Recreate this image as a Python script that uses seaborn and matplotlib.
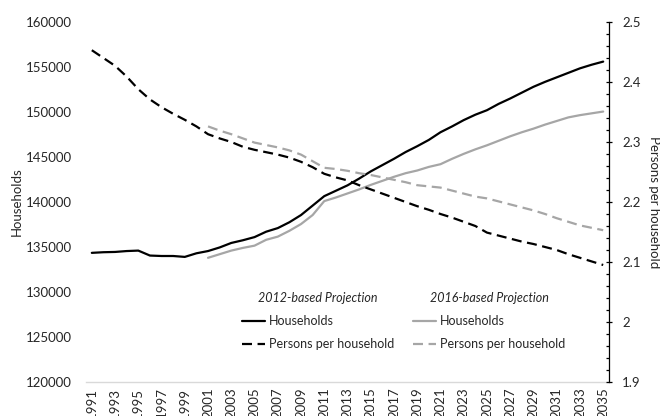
import matplotlib
matplotlib.use("Agg")
import matplotlib.pyplot as plt
import seaborn as sns
import numpy as np
from matplotlib.ticker import FuncFormatter, MultipleLocator

years_2012 = [1991, 1992, 1993, 1994, 1995, 1996, 1997, 1998, 1999, 2000,
              2001, 2002, 2003, 2004, 2005, 2006, 2007, 2008, 2009, 2010,
              2011, 2012, 2013, 2014, 2015, 2016, 2017, 2018, 2019, 2020,
              2021, 2022, 2023, 2024, 2025, 2026, 2027, 2028, 2029, 2030,
              2031, 2032, 2033, 2034, 2035]
households_2012 = [134350, 134420, 134450, 134550, 134600, 134050, 134000, 134000, 133900, 134300,
                   134550, 134950, 135450, 135750, 136100, 136700, 137100, 137750, 138550, 139600,
                   140650, 141250, 141850, 142600, 143400, 144100, 144800, 145550, 146200, 146900,
                   147750, 148400, 149100, 149700, 150200, 150900, 151500, 152150, 152800, 153350,
                   153850, 154350, 154850, 155250, 155600]
pph_2012 = [2.453, 2.440, 2.427, 2.409, 2.388, 2.371, 2.358, 2.347, 2.337, 2.326,
            2.313, 2.306, 2.300, 2.292, 2.287, 2.283, 2.279, 2.274, 2.267, 2.258,
            2.247, 2.241, 2.236, 2.228, 2.221, 2.214, 2.207, 2.200, 2.193, 2.187,
            2.180, 2.174, 2.167, 2.160, 2.149, 2.144, 2.139, 2.134, 2.130, 2.125,
            2.120, 2.113, 2.107, 2.101, 2.095]

years_2016 = [2001, 2002, 2003, 2004, 2005, 2006, 2007, 2008, 2009, 2010,
              2011, 2012, 2013, 2014, 2015, 2016, 2017, 2018, 2019, 2020,
              2021, 2022, 2023, 2024, 2025, 2026, 2027, 2028, 2029, 2030,
              2031, 2032, 2033, 2034, 2035]
households_2016 = [133800, 134200, 134600, 134900, 135150, 135800, 136150, 136800, 137550, 138550,
                   140100, 140500, 140950, 141400, 141900, 142350, 142800, 143200, 143500, 143900,
                   144200, 144800, 145350, 145850, 146300, 146800, 147300, 147750, 148150, 148600,
                   149000, 149400, 149650, 149850, 150050]
pph_2016 = [2.326, 2.319, 2.313, 2.306, 2.299, 2.295, 2.291, 2.286, 2.279, 2.268,
            2.257, 2.255, 2.252, 2.248, 2.245, 2.241, 2.237, 2.233, 2.228, 2.226,
            2.224, 2.219, 2.214, 2.209, 2.206, 2.201, 2.196, 2.191, 2.186, 2.180,
            2.173, 2.167, 2.161, 2.157, 2.153]

left_ticks = [120000, 125000, 130000, 135000, 140000, 145000, 150000, 155000, 160000]
right_ticks = [1.9, 2.0, 2.1, 2.2, 2.3, 2.4, 2.5]
x_ticks = years_2012[::2]

sns.set_style("white")
plt.rcParams['font.family'] = ['Lato', 'DejaVu Sans']

BLACK = "#000000"
GREY = "#a6a6a6"
DASH = (0, (4.5, 2.5))

fig = plt.figure(figsize=(6.6, 4.16), dpi=100)
ax = fig.add_axes([86/660, 1-382/416, (609-86)/660, (382-22)/416])
ax2 = ax.twinx()

sns.lineplot(x=years_2012, y=households_2012, ax=ax, color=BLACK, linewidth=1.6)
sns.lineplot(x=years_2016, y=households_2016, ax=ax, color=GREY, linewidth=1.6)
sns.lineplot(x=years_2012, y=pph_2012, ax=ax2, color=BLACK, linewidth=1.6, linestyle=DASH)
sns.lineplot(x=years_2016, y=pph_2016, ax=ax2, color=GREY, linewidth=1.6, linestyle=DASH)

ax.set_xlim(1990.5, 2035.5)
ax.set_ylim(120000, 160000)
ax2.set_ylim(1.9, 2.5)
ax.set_yticks(left_ticks)
ax.set_xticks(x_ticks)
ax.set_xticklabels([str(y) for y in x_ticks], rotation=90)
ax2.set_yticks(right_ticks)
ax2.yaxis.set_major_formatter(FuncFormatter(lambda v, p: f"{v:g}"))
ax2.yaxis.set_minor_locator(MultipleLocator(0.02))

for a in (ax, ax2):
    for s in ("top", "left", "right", "bottom"):
        a.spines[s].set_visible(False)
ax.spines["bottom"].set_visible(True)
ax.spines["bottom"].set_color("#d9d9d9")
ax.spines["bottom"].set_linewidth(1.0)
ax2.spines["right"].set_visible(True)
ax2.spines["right"].set_color("#000000")
ax2.spines["right"].set_linewidth(0.9)

ax.tick_params(axis="y", length=0, pad=10, labelsize=9.5, colors="#262626")
ax.tick_params(axis="x", length=0, pad=4, labelsize=9.5, colors="#262626")
ax2.tick_params(axis="y", which="major", direction="inout", length=5, width=0.9,
                pad=7, labelsize=9.5, colors="#262626")
ax2.tick_params(axis="y", which="major", color="#000000")
ax2.tick_params(axis="y", which="minor", direction="in", length=2.5, width=0.9, color="#000000")

ax.set_xlabel("")
ax.set_ylabel("Households", fontsize=9.5, color="#262626", labelpad=2)
ax2.set_ylabel("Persons per household", fontsize=9.5, color="#262626", rotation=-90, labelpad=14)

l_hh12, l_hh16 = ax.get_lines()[0], ax.get_lines()[1]
l_pp12, l_pp16 = ax2.get_lines()[0], ax2.get_lines()[1]

leg_kw = dict(frameon=False, loc="center", fontsize=9, handlelength=1.9,
              handletextpad=0.3, labelspacing=0.9, bbox_transform=fig.transFigure,
              title_fontproperties={"style": "italic", "size": 9})
leg1 = ax2.legend([l_hh12, l_pp12], ["Households", "Persons per household"],
                  title="2012-based Projection", bbox_to_anchor=(318/660, 1-321/416), **leg_kw)
ax2.add_artist(leg1)
leg2 = ax2.legend([l_hh16, l_pp16], ["Households", "Persons per household"],
                  title="2016-based Projection", bbox_to_anchor=(489/660, 1-321/416), **leg_kw)

fig.savefig("out.png", dpi=100)
